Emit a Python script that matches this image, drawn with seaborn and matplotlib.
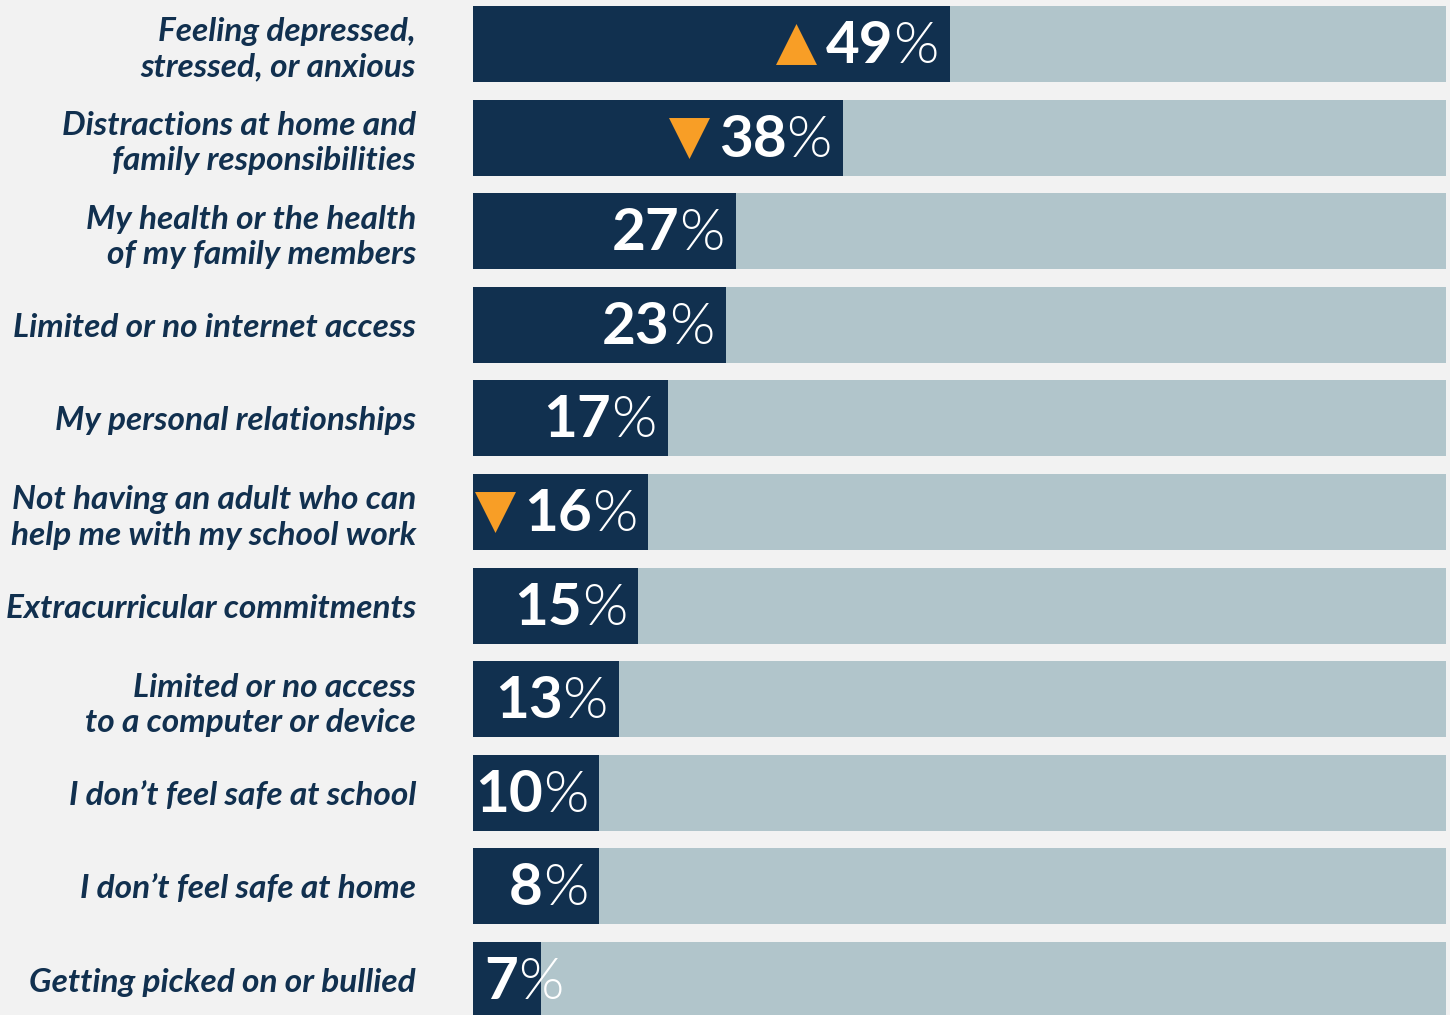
import matplotlib
matplotlib.use("Agg")
import matplotlib.pyplot as plt
from matplotlib.transforms import IdentityTransform
import seaborn as sns
import pandas as pd

# ---- data ----
categories = [
    "Feeling depressed,\nstressed, or anxious",
    "Distractions at home and\nfamily responsibilities",
    "My health or the health\nof my family members",
    "Limited or no internet access",
    "My personal relationships",
    "Not having an adult who can\nhelp me with my school work",
    "Extracurricular commitments",
    "Limited or no access\nto a computer or device",
    "I don\u2019t feel safe at school",
    "I don\u2019t feel safe at home",
    "Getting picked on or bullied",
]
pct_labels = [49, 38, 27, 23, 17, 16, 15, 13, 10, 8, 7]
bar_lengths = [49, 38, 27, 26, 20, 18, 17, 15, 13, 13, 7]
trend = ["up", "down", "", "", "", "down", "", "", "", "", ""]
full_scale = [100] * len(categories)

# ---- style ----
BG = "#f2f2f2"
NAVY = "#11304f"
LIGHT = "#b1c5cb"
ORANGE = "#f89e26"

sns.set_theme(style="white")
plt.rcParams["font.family"] = ["Lato", "DejaVu Sans"]

W, H, DPI = 1450, 1015, 100
fig = plt.figure(figsize=(W / DPI, H / DPI), dpi=DPI, facecolor=BG)
ax = fig.add_axes([473 / W, 0, 973 / W, 1])
ax.set_facecolor(BG)

df = pd.DataFrame({"cat": categories, "len": bar_lengths, "full": full_scale})
sns.barplot(data=df, y="cat", x="full", color=LIGHT, width=0.81,
            saturation=1, orient="h", linewidth=0, ax=ax)
sns.barplot(data=df, y="cat", x="len", color=NAVY, width=0.81,
            saturation=1, orient="h", linewidth=0, ax=ax)

pitch = 93.6
ax.set_xlim(0, 100)
ax.set_ylim((H - 44) / pitch, -44 / pitch)
ax.set_xlabel("")
ax.set_ylabel("")
ax.set_xticks([])
for s in ax.spines.values():
    s.set_visible(False)

ax.set_yticks(range(len(categories)))
ax.set_yticklabels(categories)
ax.tick_params(axis="y", length=0, pad=41)
for lbl in ax.get_yticklabels():
    lbl.set_fontsize(24)
    lbl.set_fontweight("bold")
    lbl.set_fontstyle("italic")
    lbl.set_color(NAVY)
    lbl.set_ha("right")
    lbl.set_multialignment("right")
    lbl.set_linespacing(1.25)

fig.canvas.draw()
renderer = fig.canvas.get_renderer()
ident = IdentityTransform()
x0_disp = ax.transData.transform((0, 0))[0]
NUM_FS = 42
PCT_W = 350
GAP = 11
SEP = 0

for i, (lab, ln, tr) in enumerate(zip(pct_labels, bar_lengths, trend)):
    base_y = ax.transData.transform((0, i + 0.203))[1]
    end_x = ax.transData.transform((ln, 0))[0]
    t_num = fig.text(0, 0, f"{lab}", fontsize=NUM_FS, fontweight="bold", color="white")
    t_pct = fig.text(0, 0, "%", fontsize=NUM_FS, fontweight=PCT_W, color="white")
    w_num = t_num.get_window_extent(renderer).width
    w_pct = t_pct.get_window_extent(renderer).width
    t_num.remove()
    t_pct.remove()
    total = w_num + w_pct + SEP
    if total > (end_x - x0_disp):
        start = x0_disp + GAP
    else:
        start = end_x - GAP - total
    ax.text(start, base_y, f"{lab}", transform=ident, fontsize=NUM_FS,
            fontweight="bold", color="white", ha="left", va="baseline")
    ax.text(start + w_num + SEP, base_y, "%", transform=ident, fontsize=NUM_FS,
            fontweight=PCT_W, color="white", ha="left", va="baseline")
    if tr:
        cx = start - 9 - 20.5
        cy = ax.transData.transform((0, i))[1]
        dx, dy = ax.transData.inverted().transform((cx, cy))
        ax.scatter([dx], [dy], marker="^" if tr == "up" else "v", s=870,
                   color=ORANGE, linewidths=0, zorder=5)

fig.savefig("out.png", dpi=DPI, facecolor=BG)
